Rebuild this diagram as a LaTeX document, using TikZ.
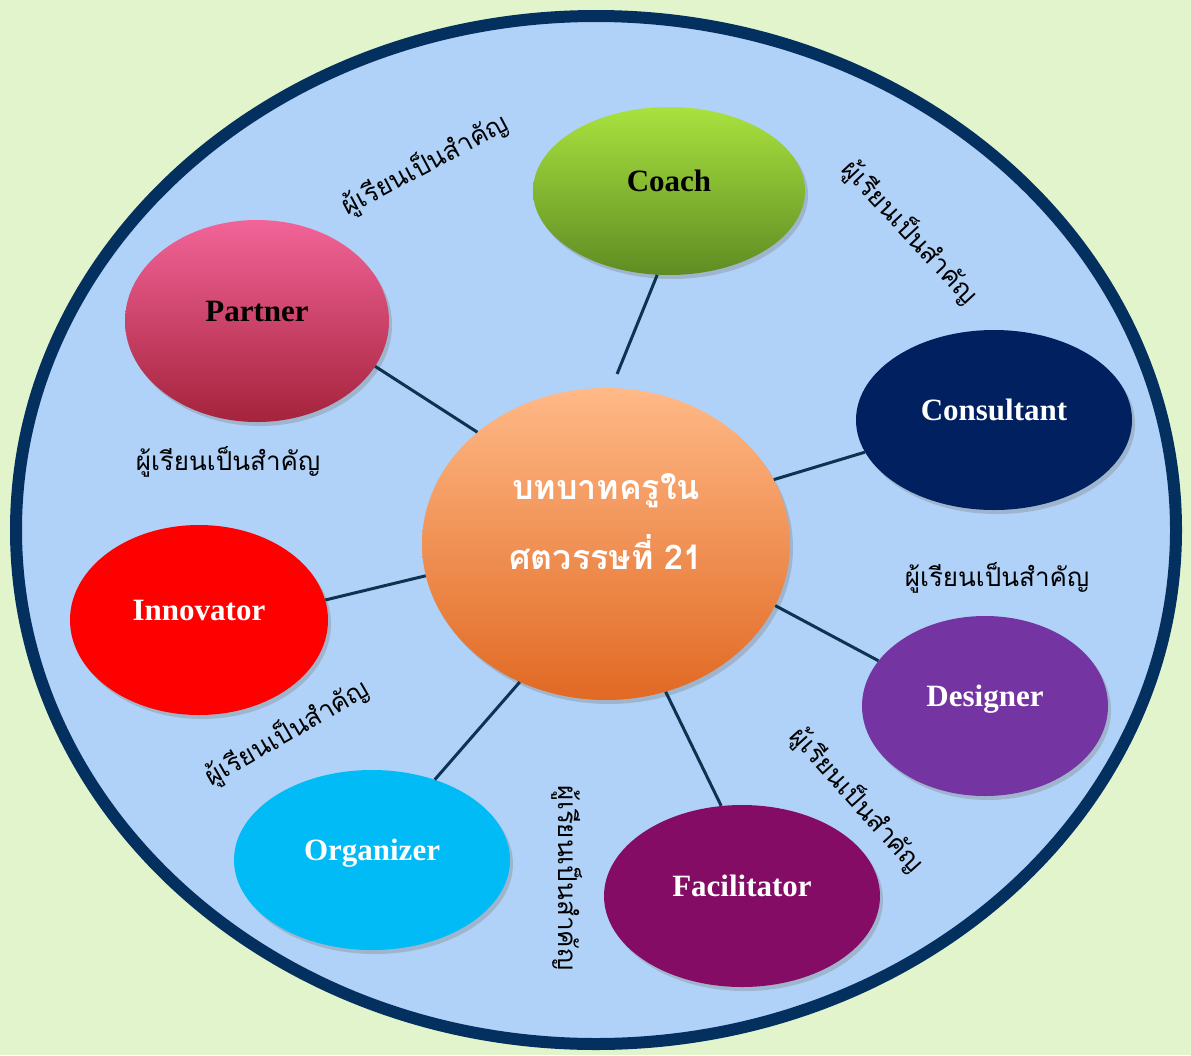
\documentclass[tikz,border=0pt]{standalone}
\usepackage{fontspec}
\setmainfont{Liberation Serif}
\newfontfamily\thaifont[Script=Thai]{Loma}
\usetikzlibrary{shapes.geometric,shadows}
\definecolor{bggreen}{HTML}{E2F4CB}
\definecolor{skyfill}{HTML}{B0D2F8}
\definecolor{rimblue}{HTML}{04305F}
\definecolor{linkblue}{HTML}{0C3350}
\definecolor{hubtop}{RGB}{255,185,135}
\definecolor{hubbot}{RGB}{225,105,35}
\definecolor{coachtop}{RGB}{168,226,62}
\definecolor{coachbot}{RGB}{95,140,35}
\definecolor{partnertop}{RGB}{242,100,152}
\definecolor{partnerbot}{RGB}{165,35,60}

\begin{document}
\begin{tikzpicture}[x=1pt, y=-1pt,
role/.style={ellipse, inner sep=0pt, text depth=20pt,
  font=\fontsize{31}{37}\selectfont\bfseries,
  drop shadow={opacity=0.35, shadow xshift=3pt, shadow yshift=-4pt}},
note/.style={font=\thaifont\fontsize{26}{30}\selectfont, inner sep=0pt},
link/.style={draw=linkblue, line width=3pt}]
\fill [bggreen] (0,0) rectangle (1191,1055);
\useasboundingbox (0,0) rectangle (1191,1055);
\node [ellipse, draw=rimblue, line width=12pt, fill=skyfill, minimum width=1160pt, minimum height=1028pt] (frame) at (596,530) {};
% roles
\node [role, top color=hubtop, bottom color=hubbot, minimum width=368pt, minimum height=312pt, text=white, font=\thaifont\fontsize{34}{70}\selectfont\bfseries, align=center, text depth=44pt] (hub) at (606,544) {บทบาทครูใน\\ศตวรรษที่ 21};
\node [role, top color=coachtop, bottom color=coachbot, minimum width=272pt, minimum height=168pt] (coach) at (669,191) {Coach};
\node [role, top color=partnertop, bottom color=partnerbot, minimum width=264pt, minimum height=202pt] (partner) at (257,321) {Partner};
\node [role, fill={rgb,255:red,0;green,32;blue,95}, text=white, minimum width=276pt, minimum height=180pt] (consultant) at (994,420) {Consultant};
\node [role, fill=red, text=white, minimum width=258pt, minimum height=190pt] (innovator) at (199,620) {Innovator};
\node [role, fill={rgb,255:red,116;green,52;blue,162}, text=white, minimum width=246pt, minimum height=180pt] (designer) at (985,706) {Designer};
\node [role, fill={rgb,255:red,132;green,12;blue,100}, text=white, minimum width=276pt, minimum height=182pt] (facilitator) at (742,896) {Facilitator};
\node [role, fill={rgb,255:red,0;green,187;blue,245}, text=white, minimum width=276pt, minimum height=180pt] (organizer) at (372,860) {Organizer};
% notes
\node [note, rotate=28] (n_1) at (425,165) {ผู้เรียนเป็นสำคัญ};
\node [note, rotate=-47] (n_2) at (910,232) {ผู้เรียนเป็นสำคัญ};
\node [note] (n_3) at (228,462) {ผู้เรียนเป็นสำคัญ};
\node [note] (n_4) at (997,578) {ผู้เรียนเป็นสำคัญ};
\node [note, rotate=30] (n_5) at (287,733) {ผู้เรียนเป็นสำคัญ};
\node [note, rotate=-90] (n_6) at (567,878) {ผู้เรียนเป็นสำคัญ};
\node [note, rotate=-48] (n_7) at (857,800) {ผู้เรียนเป็นสำคัญ};
\path [link]
(hub.88) edge [shorten <=15pt] (coach.262)
(hub.139) edge (partner.339)
(hub.21) edge (consultant.194)
(hub.190) edge (innovator.9)
(hub.340) edge (designer.157)
(hub.292) edge (facilitator.103)
(hub.238) edge (organizer.52);
\end{tikzpicture}
\end{document}
